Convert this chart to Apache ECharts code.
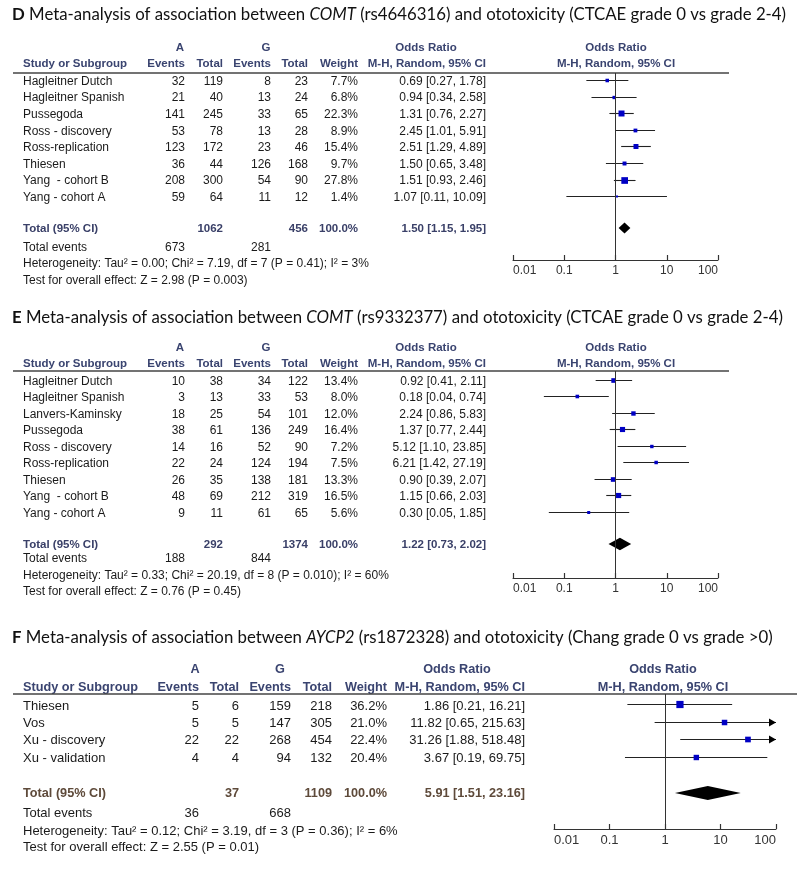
<!DOCTYPE html>
<html><head><meta charset="utf-8">
<script src="https://cdn.jsdelivr.net/npm/echarts@6/dist/echarts.min.js"></script>
<style>html,body{margin:0;padding:0;background:#fff}#c{width:800px;height:869px}</style>
</head><body><div id="c"></div>
<script>
// ---- axis ticks ----
const xTicks = [0.01, 0.1, 1, 10, 100];
const xTickLabels = ['0.01', '0.1', '1', '10', '100'];

// ---- Panel D ----
const titleD = ['D', ' Meta-analysis of association between ', 'COMT', ' (rs4646316) and ototoxicity (CTCAE grade 0 vs grade 2-4)'];
const studiesD = ['Hagleitner Dutch', 'Hagleitner Spanish', 'Pussegoda', 'Ross - discovery', 'Ross-replication', 'Thiesen', 'Yang  - cohort B', 'Yang - cohort A'];
const aEventsD = [32, 21, 141, 53, 123, 36, 208, 59];
const aTotalD = [119, 40, 245, 78, 172, 44, 300, 64];
const gEventsD = [8, 13, 33, 13, 23, 126, 54, 11];
const gTotalD = [23, 24, 65, 28, 46, 168, 90, 12];
const weightD = [7.7, 6.8, 22.3, 8.9, 15.4, 9.7, 27.8, 1.4];
const orD = [0.69, 0.94, 1.31, 2.45, 2.51, 1.50, 1.51, 1.07];
const lowD = [0.27, 0.34, 0.76, 1.01, 1.29, 0.65, 0.93, 0.11];
const highD = [1.78, 2.58, 2.27, 5.91, 4.89, 3.48, 2.46, 10.09];
const totalsD = [1062, 456, 100.0];
const totalOrD = [1.50, 1.15, 1.95];
const totalEventsD = [673, 281];
const hetD = 'Heterogeneity: Tau² = 0.00; Chi² = 7.19, df = 7 (P = 0.41); I² = 3%';
const testD = 'Test for overall effect: Z = 2.98 (P = 0.003)';

// ---- Panel E ----
const titleE = ['E', ' Meta-analysis of association between ', 'COMT', ' (rs9332377) and ototoxicity (CTCAE grade 0 vs grade 2-4)'];
const studiesE = ['Hagleitner Dutch', 'Hagleitner Spanish', 'Lanvers-Kaminsky', 'Pussegoda', 'Ross - discovery', 'Ross-replication', 'Thiesen', 'Yang  - cohort B', 'Yang - cohort A'];
const aEventsE = [10, 3, 18, 38, 14, 22, 26, 48, 9];
const aTotalE = [38, 13, 25, 61, 16, 24, 35, 69, 11];
const gEventsE = [34, 33, 54, 136, 52, 124, 138, 212, 61];
const gTotalE = [122, 53, 101, 249, 90, 194, 181, 319, 65];
const weightE = [13.4, 8.0, 12.0, 16.4, 7.2, 7.5, 13.3, 16.5, 5.6];
const orE = [0.92, 0.18, 2.24, 1.37, 5.12, 6.21, 0.90, 1.15, 0.30];
const lowE = [0.41, 0.04, 0.86, 0.77, 1.10, 1.42, 0.39, 0.66, 0.05];
const highE = [2.11, 0.74, 5.83, 2.44, 23.85, 27.19, 2.07, 2.03, 1.85];
const totalsE = [292, 1374, 100.0];
const totalOrE = [1.22, 0.73, 2.02];
const totalEventsE = [188, 844];
const hetE = 'Heterogeneity: Tau² = 0.33; Chi² = 20.19, df = 8 (P = 0.010); I² = 60%';
const testE = 'Test for overall effect: Z = 0.76 (P = 0.45)';

// ---- Panel F ----
const titleF = ['F', ' Meta-analysis of association between ', 'AYCP2', ' (rs1872328) and ototoxicity (Chang grade 0 vs grade >0)'];
const studiesF = ['Thiesen', 'Vos', 'Xu - discovery', 'Xu - validation'];
const aEventsF = [5, 5, 22, 4];
const aTotalF = [6, 5, 22, 4];
const gEventsF = [159, 147, 268, 94];
const gTotalF = [218, 305, 454, 132];
const weightF = [36.2, 21.0, 22.4, 20.4];
const orF = [1.86, 11.82, 31.26, 3.67];
const lowF = [0.21, 0.65, 1.88, 0.19];
const highF = [16.21, 215.63, 518.48, 69.75];
const totalsF = [37, 1109, 100.0];
const totalOrF = [5.91, 1.51, 23.16];
const totalEventsF = [36, 668];
const hetF = 'Heterogeneity: Tau² = 0.12; Chi² = 3.19, df = 3 (P = 0.36); I² = 6%';
const testF = 'Test for overall effect: Z = 2.55 (P = 0.01)';

// ---- assemble ----
const panels = [
  {title: titleD, studies: studiesD, aEv: aEventsD, aTot: aTotalD, gEv: gEventsD, gTot: gTotalD, w: weightD, or: orD, lo: lowD, hi: highD, totals: totalsD, totOr: totalOrD, totEv: totalEventsD, het: hetD, test: testD},
  {title: titleE, studies: studiesE, aEv: aEventsE, aTot: aTotalE, gEv: gEventsE, gTot: gTotalE, w: weightE, or: orE, lo: lowE, hi: highE, totals: totalsE, totOr: totalOrE, totEv: totalEventsE, het: hetE, test: testE},
  {title: titleF, studies: studiesF, aEv: aEventsF, aTot: aTotalF, gEv: gEventsF, gTot: gTotalF, w: weightF, or: orF, lo: lowF, hi: highF, totals: totalsF, totOr: totalOrF, totEv: totalEventsF, het: hetF, test: testF}
];

// layout (positions / styles only)
const layouts = [
  {titleY: 15, h1Y: 48, h2Y: 64, ruleY: 73, ruleX2: 729, gLeft: 513, gRight: 718, gTop: 73, gBottom: 260, yMin: -0.42, yMax: 10.85, totIdx: 8.92,
   fs: 12, hfs: 11.5, cols: [185, 223, 271, 308, 358, 486], aHdr: 180, gHdr: 266, orHdr: 426, plotHdr: 616, evY: 248, hetY: 264, testY: 281, sqK: 1.27, dH: 11, totColor: '#3a4068'},
  {titleY: 318, h1Y: 348, h2Y: 364, ruleY: 371, ruleX2: 729, gLeft: 513, gRight: 718, gTop: 371, gBottom: 578, yMin: -0.545, yMax: 12.0, totIdx: 9.94,
   fs: 12, hfs: 11.5, cols: [185, 223, 271, 308, 358, 486], aHdr: 180, gHdr: 266, orHdr: 426, plotHdr: 616, evY: 559, hetY: 576, testY: 592, sqK: 1.27, dH: 12.5, totColor: '#3a4068'},
  {titleY: 638, h1Y: 669, h2Y: 687, ruleY: 694, ruleX2: 797, gLeft: 554, gRight: 776, gTop: 694, gBottom: 829, yMin: -0.6, yMax: 7.15, totIdx: 5.08,
   fs: 13, hfs: 12.7, cols: [199, 239, 291, 332, 387, 525], aHdr: 195, gHdr: 280, orHdr: 457, plotHdr: 663, evY: 813, hetY: 831, testY: 847, sqK: 1.2, dH: 14, totColor: '#5e4a3a'}
];

const HDR = '#3a4470';
const TXT = '#1a1a1a';
const FONT = '"Liberation Sans", Arial, sans-serif';
const TFONT = 'Lato, "Open Sans", sans-serif';

function fmtOr(o, l, h) { return o.toFixed(2) + ' [' + l.toFixed(2) + ', ' + h.toFixed(2) + ']'; }

function studyRenderer(k) {
  return function (params, api) {
    const est = api.value(0), lo = api.value(1), hi = api.value(2), y = api.value(3), w = api.value(4);
    const xMin = xTicks[0], xMax = xTicks[xTicks.length - 1];
    const p0 = api.coord([Math.max(lo, xMin), y]);
    const p1 = api.coord([Math.min(hi, xMax), y]);
    const pe = api.coord([est, y]);
    const s = Math.max(2, k * Math.sqrt(w));
    const children = [
      {type: 'line', shape: {x1: p0[0], y1: Math.round(p0[1]) + 0.5, x2: p1[0], y2: Math.round(p1[1]) + 0.5}, style: {stroke: '#222', lineWidth: 1.1}},
      {type: 'rect', shape: {x: pe[0] - s / 2, y: Math.round(pe[1]) + 0.5 - s / 2, width: s, height: s}, style: {fill: '#0000c4'}}
    ];
    if (hi > xMax) {
      const ax = p1[0], ay = Math.round(p1[1]) + 0.5;
      children.push({type: 'polygon', shape: {points: [[ax, ay], [ax - 7, ay - 4], [ax - 7, ay + 4]]}, style: {fill: '#000'}});
    }
    return {type: 'group', children: children};
  };
}

function diamondRenderer(h) {
  return function (params, api) {
    const est = api.value(0), lo = api.value(1), hi = api.value(2), y = api.value(3);
    const pl = api.coord([lo, y]), pr = api.coord([hi, y]), pe = api.coord([est, y]);
    return {type: 'polygon', shape: {points: [[pl[0], pl[1]], [pe[0], pe[1] - h / 2], [pr[0], pr[1]], [pe[0], pe[1] + h / 2]]}, style: {fill: '#000'}};
  };
}

const grids = [], xAxes = [], yAxes = [], series = [];
panels.forEach(function (P, p) {
  const L = layouts[p];
  grids.push({left: L.gLeft, top: L.gTop, width: L.gRight - L.gLeft, height: L.gBottom - L.gTop, containLabel: false});
  xAxes.push({
    type: 'log', logBase: 10, gridIndex: p, position: 'bottom', min: xTicks[0], max: xTicks[xTicks.length - 1], splitNumber: xTicks.length - 1,
    axisLine: {show: true, onZero: false, lineStyle: {color: '#333', width: 1}},
    axisTick: {show: true, inside: true, length: 5, lineStyle: {color: '#333', width: 1.2}},
    minorTick: {show: false}, splitLine: {show: false},
    axisLabel: {show: true, margin: 5, fontFamily: FONT, fontSize: L.fs, color: '#333', alignMinLabel: 'left', alignMaxLabel: 'right',
      formatter: function (v) { return xTickLabels[Math.round(Math.log10(v)) - Math.round(Math.log10(xTicks[0]))]; }}
  });
  yAxes.push({type: 'value', gridIndex: p, inverse: true, min: L.yMin, max: L.yMax, show: false});
  series.push({
    type: 'custom', xAxisIndex: p, yAxisIndex: p, encode: {x: [0, 1, 2], y: 3}, silent: true,
    data: P.studies.map(function (s, i) { return [P.or[i], P.lo[i], P.hi[i], i, P.w[i]]; }),
    renderItem: studyRenderer(L.sqK),
    markLine: {silent: true, symbol: 'none', label: {show: false}, lineStyle: {color: '#333', width: 1, type: 'solid'}, data: [{xAxis: 1}], animation: false},
    animation: false, z: 3
  });
  series.push({
    type: 'custom', xAxisIndex: p, yAxisIndex: p, encode: {x: [0, 1, 2], y: 3}, silent: true,
    data: [[P.totOr[0], P.totOr[1], P.totOr[2], L.totIdx]],
    renderItem: diamondRenderer(L.dH), animation: false, z: 4
  });
});

const chart = echarts.init(document.getElementById('c'));
chart.setOption({animation: false, grid: grids, xAxis: xAxes, yAxis: yAxes, series: series});

// ---- table text ----
const g = [];
function txt(x, y, text, o) {
  o = o || {};
  g.push({type: 'text', x: x, y: y, silent: true, style: {
    text: String(text), fill: o.color || TXT, fontFamily: FONT, fontSize: o.fs || 12, fontWeight: o.bold ? 'bold' : 'normal',
    align: o.align || 'left', verticalAlign: 'middle'}});
}
panels.forEach(function (P, p) {
  const L = layouts[p];
  const fs = L.fs;
  const C = L.cols;
  // title
  g.push({type: 'text', x: 12, y: L.titleY, silent: true, style: {
    text: '{b|' + P.title[0] + '}' + P.title[1] + '{i|' + P.title[2] + '}' + P.title[3],
    fill: '#111', fontFamily: TFONT, fontSize: 16.8, verticalAlign: 'middle', align: 'left',
    rich: {b: {fontWeight: 'bold', fontFamily: TFONT, fontSize: 16.8, fill: '#111'},
           i: {fontStyle: 'italic', fontFamily: TFONT, fontSize: 16.8, fill: '#111'}}}});
  // headers
  const hb = {bold: true, color: HDR, fs: L.hfs};
  txt(L.aHdr, L.h1Y, 'A', Object.assign({align: 'center'}, hb));
  txt(L.gHdr, L.h1Y, 'G', Object.assign({align: 'center'}, hb));
  txt(L.orHdr, L.h1Y, 'Odds Ratio', Object.assign({align: 'center'}, hb));
  txt(L.plotHdr, L.h1Y, 'Odds Ratio', Object.assign({align: 'center'}, hb));
  txt(23, L.h2Y, 'Study or Subgroup', hb);
  const h2 = ['Events', 'Total', 'Events', 'Total', 'Weight', 'M-H, Random, 95% CI'];
  h2.forEach(function (h, j) { txt(C[j], L.h2Y, h, Object.assign({align: 'right'}, hb)); });
  txt(L.plotHdr, L.h2Y, 'M-H, Random, 95% CI', Object.assign({align: 'center'}, hb));
  g.push({type: 'line', silent: true, shape: {x1: 13, y1: L.ruleY, x2: L.ruleX2, y2: L.ruleY}, style: {stroke: '#444', lineWidth: 1.5}});
  // rows
  P.studies.forEach(function (s, i) {
    const y = chart.convertToPixel({yAxisIndex: p}, i) + 1.5;
    txt(23, y, s, {fs: fs});
    txt(C[0], y, P.aEv[i], {fs: fs, align: 'right'});
    txt(C[1], y, P.aTot[i], {fs: fs, align: 'right'});
    txt(C[2], y, P.gEv[i], {fs: fs, align: 'right'});
    txt(C[3], y, P.gTot[i], {fs: fs, align: 'right'});
    txt(C[4], y, P.w[i].toFixed(1) + '%', {fs: fs, align: 'right'});
    txt(C[5], y, fmtOr(P.or[i], P.lo[i], P.hi[i]), {fs: fs, align: 'right'});
  });
  // total
  const ty = chart.convertToPixel({yAxisIndex: p}, L.totIdx) + 0.5;
  const tb = {bold: true, color: L.totColor, fs: L.hfs};
  txt(23, ty, 'Total (95% CI)', tb);
  txt(C[1], ty, P.totals[0], Object.assign({align: 'right'}, tb));
  txt(C[3], ty, P.totals[1], Object.assign({align: 'right'}, tb));
  txt(C[4], ty, P.totals[2].toFixed(1) + '%', Object.assign({align: 'right'}, tb));
  txt(C[5], ty, fmtOr(P.totOr[0], P.totOr[1], P.totOr[2]), Object.assign({align: 'right'}, tb));
  txt(23, L.evY, 'Total events', {fs: fs});
  txt(C[0], L.evY, P.totEv[0], {fs: fs, align: 'right'});
  txt(C[2], L.evY, P.totEv[1], {fs: fs, align: 'right'});
  txt(23, L.hetY, P.het, {fs: fs});
  txt(23, L.testY, P.test, {fs: fs});
});
chart.setOption({graphic: {elements: g}});
</script>
</body></html>
